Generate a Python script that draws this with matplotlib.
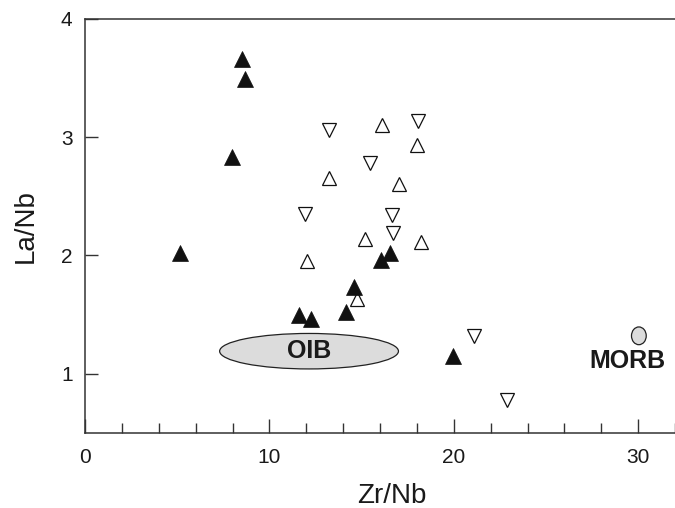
import matplotlib.pyplot as plt
from matplotlib.patches import Ellipse
from matplotlib.ticker import MultipleLocator

plt.rcParams['font.family'] = ['Liberation Sans', 'DejaVu Sans']

# filled triangles
zr_filled = [8.50, 8.68, 7.96, 5.16, 11.63, 12.24, 14.18, 14.61, 16.07, 16.56, 19.94]
la_filled = [3.66, 3.49, 2.83, 2.02, 1.50, 1.46, 1.52, 1.73, 1.96, 2.02, 1.15]

# open triangles (up)
zr_up = [16.09, 18.00, 13.23, 17.04, 15.16, 18.21, 12.02, 14.75]
la_up = [3.10, 2.93, 2.65, 2.60, 2.14, 2.11, 1.95, 1.63]

# open triangles (down)
zr_down = [13.21, 18.07, 15.43, 11.95, 16.63, 16.71, 21.09, 22.90]
la_down = [3.06, 3.14, 2.78, 2.35, 2.34, 2.19, 1.32, 0.78]

# reference fields
oib_center = (12.15, 1.19)
oib_size = (9.7, 0.30)
morb_center = (30.04, 1.32)
morb_size = (0.8, 0.15)

fig = plt.figure(figsize=(6.75, 5.08), dpi=100)
ax = fig.add_axes([0.126, 0.148, 0.874, 0.815])

ax.add_patch(Ellipse(oib_center, oib_size[0], oib_size[1],
                     facecolor='#dcdcdc', edgecolor='#222222', lw=0.9, zorder=1))
ax.text(oib_center[0], oib_center[1], 'OIB', ha='center', va='center',
        fontsize=18, fontweight='bold', color='#1a1a1a', zorder=2)
ax.add_patch(Ellipse(morb_center, morb_size[0], morb_size[1],
                     facecolor='#dcdcdc', edgecolor='#222222', lw=0.9, zorder=1))
ax.text(29.4, 1.11, 'MORB', ha='center', va='center',
        fontsize=18, fontweight='bold', color='#1a1a1a', zorder=2)

ax.plot(zr_up, la_up, ls='none', marker='^', ms=10.5, mfc='white',
        mec='#111111', mew=0.9, zorder=3)
ax.plot(zr_down, la_down, ls='none', marker='v', ms=10, mfc='white',
        mec='#111111', mew=0.9, zorder=3)
ax.plot(zr_filled, la_filled, ls='none', marker='^', ms=11, mfc='#111111',
        mec='#111111', mew=0.5, zorder=4)

ax.set_xlim(0, 32)
ax.set_ylim(0.5, 4)
ax.xaxis.set_major_locator(MultipleLocator(10))
ax.xaxis.set_minor_locator(MultipleLocator(2))
ax.set_yticks([1, 2, 3, 4])

ax.spines['right'].set_visible(False)
for s in ['left', 'bottom', 'top']:
    ax.spines[s].set_color('#333333')
    ax.spines[s].set_linewidth(1.1)

ax.tick_params(axis='x', which='major', direction='in', length=10, width=1,
               color='#333333', labelsize=15, labelcolor='#1a1a1a', pad=11, top=False)
ax.tick_params(axis='x', which='minor', direction='in', length=7, width=1,
               color='#333333', top=False)
ax.tick_params(axis='y', which='major', direction='in', length=9, width=1,
               color='#333333', labelsize=15, labelcolor='#1a1a1a', pad=9, right=False)
ax.tick_params(axis='y', which='minor', left=False, right=False)

ax.set_xlabel('Zr/Nb', fontsize=20, color='#1a1a1a')
ax.xaxis.set_label_coords(0.52, -0.122)
ax.xaxis.label.set_va('top')
ax.set_ylabel('La/Nb', fontsize=20, color='#1a1a1a', labelpad=16)

fig.savefig('out.png', dpi=100)
